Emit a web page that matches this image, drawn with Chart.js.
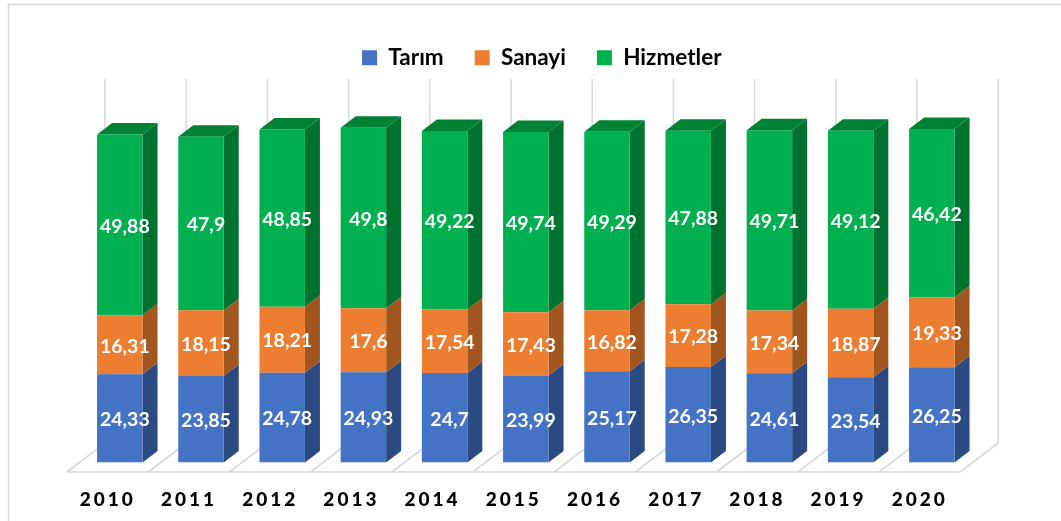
<!DOCTYPE html>
<html lang="tr">
<head>
<meta charset="utf-8">
<title>Tarım Sanayi Hizmetler</title>
<script src="https://cdn.jsdelivr.net/npm/chart.js@4"></script>
<style>
    html, body { margin: 0; padding: 0; background: #fff; }
    canvas { display: block; }
</style>
</head>
<body>
<canvas id="chart" width="1061" height="521"></canvas>
<script>
// Valeurs
const years = ['2010', '2011', '2012', '2013', '2014', '2015', '2016', '2017', '2018', '2019', '2020'];
const tarim = [24.33, 23.85, 24.78, 24.93, 24.7, 23.99, 25.17, 26.35, 24.61, 23.54, 26.25];
const sanayi = [16.31, 18.15, 18.21, 17.6, 17.54, 17.43, 16.82, 17.28, 17.34, 18.87, 19.33];
const hizmetler = [49.88, 47.9, 48.85, 49.8, 49.22, 49.74, 49.29, 47.88, 49.71, 49.12, 46.42];

// Couleurs des faces : avant, côté, dessus
const frontColors = ['#4472C4', '#ED7D31', '#00B050'];
const sideColors = ['#2B4A82', '#A2561F', '#00722F'];
const topColor = '#008235';

const depthX = 15;
const depthY = 11.5;
const floorX = 38;
const floorY = 29;
const floorDrop = 9.5;
const wallTop = 79;
const lineColor = '#D9D9D9';

function slotWidth(chart) {
    const x = chart.scales.x;
    return x.getPixelForValue(1) - x.getPixelForValue(0);
}

// Cadre, sol et lignes verticales du fond
function drawBackdrop(chart) {
    const ctx = chart.ctx;
    const slot = slotWidth(chart);
    const frontY = chart.scales.y.getPixelForValue(0) + floorDrop;
    const backY = frontY - floorY;
    const startX = chart.scales.x.left - 12.2;

    ctx.save();
    ctx.strokeStyle = lineColor;
    ctx.lineWidth = 1.6;

    ctx.beginPath();
    ctx.moveTo(8.5, 521);
    ctx.lineTo(8.5, 4.5);
    ctx.lineTo(1061, 4.5);
    ctx.stroke();

    ctx.beginPath();
    ctx.moveTo(startX, frontY);
    ctx.lineTo(startX + slot * years.length, frontY);
    for (let i = 0; i <= years.length; i++) {
        const fx = startX + slot * i;
        ctx.moveTo(fx, frontY);
        ctx.lineTo(fx + floorX, backY);
        ctx.lineTo(fx + floorX, wallTop);
    }
    ctx.stroke();
    ctx.restore();
}

// Faces latérales et dessus des colonnes
function drawFaces(chart) {
    const ctx = chart.ctx;
    ctx.save();
    chart.data.datasets.forEach((dataset, d) => {
        chart.getDatasetMeta(d).data.forEach(bar => {
            const p = bar.getProps(['x', 'y', 'base', 'width']);
            const left = p.x - p.width / 2;
            const right = p.x + p.width / 2;

            ctx.fillStyle = sideColors[d];
            ctx.beginPath();
            ctx.moveTo(right, p.base);
            ctx.lineTo(right + depthX, p.base - depthY);
            ctx.lineTo(right + depthX, p.y - depthY);
            ctx.lineTo(right, p.y);
            ctx.closePath();
            ctx.fill();

            if (d === chart.data.datasets.length - 1) {
                ctx.fillStyle = topColor;
                ctx.beginPath();
                ctx.moveTo(left, p.y);
                ctx.lineTo(left + depthX, p.y - depthY);
                ctx.lineTo(right + depthX, p.y - depthY);
                ctx.lineTo(right, p.y);
                ctx.closePath();
                ctx.fill();
            }
        });
    });
    ctx.restore();
}

// Étiquettes de valeurs avec la virgule décimale
function drawValues(chart) {
    const ctx = chart.ctx;
    ctx.save();
    ctx.fillStyle = '#fff';
    ctx.font = 'bold 19.5px Lato';
    ctx.textAlign = 'center';
    ctx.textBaseline = 'middle';
    chart.data.datasets.forEach((dataset, d) => {
        chart.getDatasetMeta(d).data.forEach((bar, i) => {
            const p = bar.getProps(['x', 'y', 'base']);
            const text = String(dataset.data[i]).replace('.', ',');
            ctx.fillText(text, p.x + 5, (p.y + p.base) / 2 + 1.5);
        });
    });
    ctx.restore();
}

const pseudo3d = {
    id: 'pseudo3d',
    afterLayout(chart) {
        // Légende décalée vers la droite comme sur l'original
        chart.legend.left += 16;
        chart.legend.right += 16;
    },
    beforeDatasetsDraw(chart) {
        drawBackdrop(chart);
        drawFaces(chart);
    },
    afterDatasetsDraw(chart) {
        drawValues(chart);
        // Les années sont dessinées juste après, avec un espacement large
        chart.ctx.letterSpacing = '3px';
    },
    afterDraw(chart) {
        chart.ctx.letterSpacing = '0px';
    }
};

new Chart(document.getElementById('chart'), {
    type: 'bar',
    data: {
        labels: years,
        datasets: [
            { label: 'Tarım', data: tarim, backgroundColor: frontColors[0] },
            { label: 'Sanayi', data: sanayi, backgroundColor: frontColors[1] },
            { label: 'Hizmetler', data: hizmetler, backgroundColor: frontColors[2] }
        ]
    },
    options: {
        responsive: false,
        animation: false,
        barPercentage: 1,
        categoryPercentage: 0.56,
        layout: { padding: { left: 79.2, right: 88.6, top: 15.5, bottom: 0 } },
        plugins: {
            tooltip: { enabled: false },
            legend: {
                position: 'top',
                labels: {
                    boxWidth: 15,
                    boxHeight: 15,
                    padding: 31,
                    color: '#000',
                    font: { family: 'Lato', size: 22.5, weight: 'bold' }
                }
            }
        },
        scales: {
            x: {
                stacked: true,
                afterFit(scale) { scale.height = 58.5; },
                grid: { display: false },
                border: { display: false },
                ticks: {
                    z: 1,
                    padding: 18,
                    labelOffset: -12,
                    maxRotation: 0,
                    color: '#000',
                    font: { family: 'Lato', size: 19, weight: '900' }
                }
            },
            y: {
                stacked: true,
                display: false,
                min: 0,
                max: 105.8
            }
        }
    },
    plugins: [pseudo3d]
});
</script>
</body>
</html>
